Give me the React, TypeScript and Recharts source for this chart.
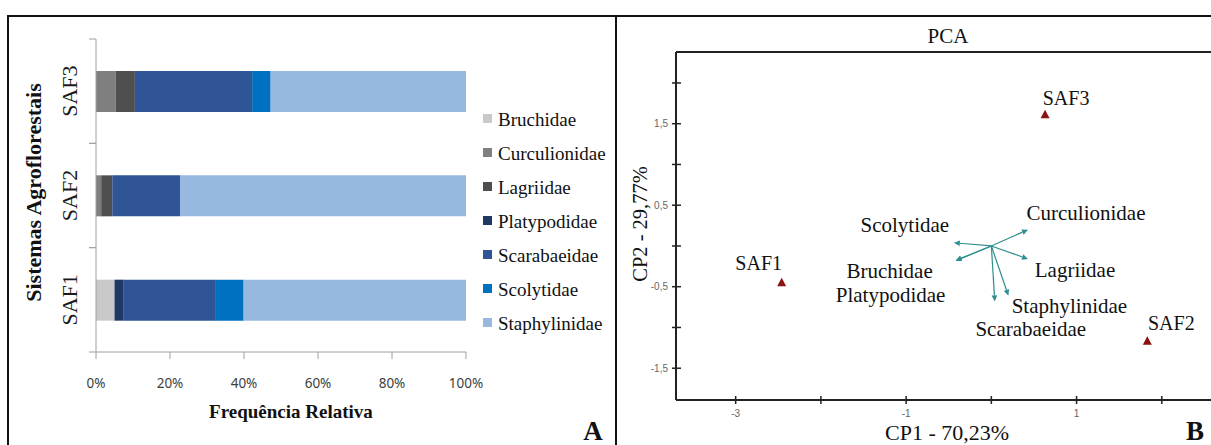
import React from "react";
import {
  BarChart,
  Bar,
  XAxis,
  YAxis,
  Legend,
  ScatterChart,
  Scatter,
  ReferenceLine,
} from "recharts";

// --- panel A: relative frequency of families per agroforestry system (%)
const sites = ["SAF1", "SAF2", "SAF3"];
const bruchidae = [5.0, 0, 0];
const curculionidae = [0, 1.4, 5.3];
const lagriidae = [0, 3.0, 5.2];
const platypodidae = [2.5, 0, 0];
const scarabaeidae = [24.9, 18.3, 31.7];
const scolytidae = [7.5, 0, 5.0];
const staphylinidae = [60.1, 77.3, 52.8];
const pctTicks = [0, 20, 40, 60, 80, 100];

const families = [
  { key: "Bruchidae", values: bruchidae, color: "#c9c9c9" },
  { key: "Curculionidae", values: curculionidae, color: "#7f7f7f" },
  { key: "Lagriidae", values: lagriidae, color: "#4f4f4f" },
  { key: "Platypodidae", values: platypodidae, color: "#1f3864" },
  { key: "Scarabaeidae", values: scarabaeidae, color: "#2f5597" },
  { key: "Scolytidae", values: scolytidae, color: "#0070c0" },
  { key: "Staphylinidae", values: staphylinidae, color: "#98b9df" },
];

// --- panel B: PCA scores and loadings
const siteCP1 = [-2.46, 1.83, 0.63];
const siteCP2 = [-0.45, -1.17, 1.61];
const loadingNames = [
  "Scolytidae",
  "Bruchidae",
  "Platypodidae",
  "Curculionidae",
  "Lagriidae",
  "Staphylinidae",
  "Scarabaeidae",
];
const loadCP1 = [-0.44, -0.42, -0.42, 0.43, 0.43, 0.2, 0.04];
const loadCP2 = [0.04, -0.18, -0.18, 0.2, -0.16, -0.61, -0.68];
const cp1Ticks = [-3, -2, -1, 0, 1, 2];
const cp1Labels = [-3, -1, 1];
const cp2Ticks = [-1.5, -1, -0.5, 0, 0.5, 1, 1.5, 2];
const cp2Labels = [-1.5, -0.5, 0.5, 1.5];

const SERIF = '"Liberation Serif", "Times New Roman", serif';
const AXIS_GRAY = "#a0a0a0";
const ARROW = "#2f8f8f";
const POINT = "#8b1212";
const BAND_HALF = (445 - 39 - 93) / 3 / 2;

const barData = sites.map((site, i) => {
  const row: Record<string, number | string> = { site };
  families.forEach((f) => (row[f.key] = f.values[i]));
  return row;
});

const siteData = sites.map((name, i) => ({
  name,
  x: siteCP1[i],
  y: siteCP2[i],
}));

// label placement (px, text baseline relative to mark)
const siteLabelOffset: Record<string, [number, number]> = {
  SAF1: [-23, -13],
  SAF2: [24, -11],
  SAF3: [21, -10],
};
const loadLabelOffset: Record<string, [number, number]> = {
  Scolytidae: [-49, -11],
  Bruchidae: [-66, 17],
  Platypodidae: [-65, 41],
  Curculionidae: [58, -10],
  Lagriidae: [47, 18],
  Staphylinidae: [61, 17],
  Scarabaeidae: [36, 35],
};

const commaNum = (v: number) => String(v).replace(".", ",");

function SiteTick(props: any) {
  const { x, y, payload } = props;
  const tx = x - 19;
  return (
    <g>
      <line x1={x - 7} x2={x} y1={y - BAND_HALF} y2={y - BAND_HALF} stroke={AXIS_GRAY} />
      <line x1={x - 7} x2={x} y1={y + BAND_HALF} y2={y + BAND_HALF} stroke={AXIS_GRAY} />
      <text
        x={tx}
        y={y}
        transform={`rotate(-90 ${tx} ${y})`}
        textAnchor="middle"
        fontFamily={SERIF}
        fontSize={22}
        fill="#1a1a1a"
      >
        {payload.value}
      </text>
    </g>
  );
}

function FamilyLegend() {
  return (
    <div style={{ fontFamily: SERIF, fontSize: 19, color: "#111" }}>
      {families.map((f) => (
        <div
          key={f.key}
          style={{ height: 34, display: "flex", alignItems: "center", whiteSpace: "nowrap" }}
        >
          <span
            style={{
              width: 9,
              height: 9,
              background: f.color,
              marginRight: 6,
              position: "relative",
              top: -2,
              display: "inline-block",
            }}
          />
          <span style={{ lineHeight: "34px" }}>{f.key}</span>
        </div>
      ))}
    </div>
  );
}

function PcaXTick(props: any) {
  const { x, y, payload } = props;
  const v = payload.value;
  return (
    <g>
      <line x1={x} x2={x} y1={y - 4} y2={y + 4} stroke="#222" strokeWidth={1.5} />
      {cp1Labels.includes(v) && (
        <text x={x} y={y + 17} textAnchor="middle" fontFamily="Liberation Sans" fontSize={10} fill="#666">
          {commaNum(v)}
        </text>
      )}
    </g>
  );
}

function PcaYTick(props: any) {
  const { x, y, payload } = props;
  const v = payload.value;
  return (
    <g>
      <line x1={x - 4} x2={x + 5} y1={y} y2={y} stroke="#222" strokeWidth={1.5} />
      {cp2Labels.includes(v) && (
        <text x={x - 8} y={y + 3.5} textAnchor="end" fontFamily="Liberation Sans" fontSize={10} fill="#666">
          {commaNum(v)}
        </text>
      )}
    </g>
  );
}

function SiteMarker(props: any) {
  const { cx, cy, payload } = props;
  const [dx, dy] = siteLabelOffset[payload.name] || [0, -10];
  return (
    <g>
      <polygon
        points={`${cx},${cy - 5} ${cx - 4.5},${cy + 3.5} ${cx + 4.5},${cy + 3.5}`}
        fill={POINT}
      />
      <text
        x={cx + dx}
        y={cy + dy}
        textAnchor="middle"
        fontFamily={SERIF}
        fontSize={20}
        fill="#111"
      >
        {payload.name}
      </text>
    </g>
  );
}

function LoadingArrow(props: any) {
  const { x1, y1, x2, y2, name } = props;
  const ang = Math.atan2(y2 - y1, x2 - x1);
  const len = 6;
  const half = 2.8;
  const bx = x2 - len * Math.cos(ang);
  const by = y2 - len * Math.sin(ang);
  const px = -Math.sin(ang) * half;
  const py = Math.cos(ang) * half;
  const [dx, dy] = loadLabelOffset[name] || [0, 0];
  return (
    <g>
      <line x1={x1} y1={y1} x2={bx} y2={by} stroke={ARROW} strokeWidth={1.2} />
      <polygon
        points={`${x2},${y2} ${bx + px},${by + py} ${bx - px},${by - py}`}
        fill={ARROW}
      />
      <text
        x={x2 + dx}
        y={y2 + dy}
        textAnchor="middle"
        fontFamily={SERIF}
        fontSize={21}
        fill="#111"
      >
        {name}
      </text>
    </g>
  );
}

export default function App() {
  return (
    <div
      style={{
        position: "absolute",
        left: 0,
        top: 0,
        width: 1211,
        height: 445,
        overflow: "hidden",
        background: "#fff",
        fontFamily: SERIF,
      }}
    >
      {/* A: stacked bars */}
      <div style={{ position: "absolute", left: 0, top: 0 }}>
        <BarChart
          width={610}
          height={445}
          layout="vertical"
          data={barData}
          margin={{ top: 39, right: 144, bottom: 0, left: 0 }}
        >
          <XAxis
            type="number"
            domain={[0, 100]}
            ticks={pctTicks}
            interval={0}
            allowDataOverflow
            height={93}
            stroke={AXIS_GRAY}
            tickSize={7}
            tickMargin={19}
            tickFormatter={(v: number) => `${v}%`}
            tick={{ fill: "#404040", fontSize: 13.5, fontFamily: "Noto Sans" }}
            label={{
              content: (p: any) => {
                const vb = p.viewBox || {};
                return (
                  <text
                    x={vb.x + vb.width / 2 + 10}
                    y={vb.y + 66}
                    textAnchor="middle"
                    fontFamily={SERIF}
                    fontWeight="bold"
                    fontSize={19}
                    fill="#111"
                  >
                    Frequência Relativa
                  </text>
                );
              },
            }}
          />
          <YAxis
            type="category"
            dataKey="site"
            reversed
            width={96}
            stroke={AXIS_GRAY}
            tickLine={false}
            tickSize={0}
            tickMargin={0}
            interval={0}
            tick={<SiteTick />}
            label={{
              content: (p: any) => {
                const vb = p.viewBox || {};
                const cy = vb.y + vb.height / 2 - 3;
                return (
                  <text
                    x={41}
                    y={cy}
                    transform={`rotate(-90 41 ${cy})`}
                    textAnchor="middle"
                    fontFamily={SERIF}
                    fontWeight="bold"
                    fontSize={22}
                    fill="#111"
                  >
                    Sistemas Agroflorestais
                  </text>
                );
              },
            }}
          />
          <Legend
            layout="vertical"
            align="center"
            verticalAlign="middle"
            wrapperStyle={{ left: 483, top: 103, width: 130 }}
            content={() => <FamilyLegend />}
          />
          {families.map((f) => (
            <Bar
              key={f.key}
              dataKey={f.key}
              stackId="saf"
              fill={f.color}
              barSize={41}
              isAnimationActive={false}
            />
          ))}
        </BarChart>
      </div>

      {/* B: PCA biplot */}
      <div style={{ position: "absolute", left: 616, top: 0 }}>
        <ScatterChart
          width={620}
          height={445}
          margin={{ top: 52, right: 6, bottom: 0, left: 0 }}
        >
          <XAxis
            type="number"
            dataKey="x"
            domain={[-3.7, 2.8]}
            allowDataOverflow
            ticks={cp1Ticks}
            interval={0}
            height={45}
            tickLine={false}
            tickSize={0}
            tickMargin={0}
            tick={<PcaXTick />}
            axisLine={{ stroke: "#222", strokeWidth: 2 }}
            label={{
              content: (p: any) => {
                const vb = p.viewBox || {};
                return (
                  <text
                    x={vb.x + 271}
                    y={vb.y + 40}
                    textAnchor="middle"
                    fontFamily={SERIF}
                    fontSize={22}
                    fill="#111"
                  >
                    CP1 - 70,23%
                  </text>
                );
              },
            }}
          />
          <YAxis
            type="number"
            dataKey="y"
            domain={[-1.89, 2.38]}
            allowDataOverflow
            ticks={cp2Ticks}
            interval={0}
            width={60}
            tickLine={false}
            tickSize={0}
            tickMargin={0}
            tick={<PcaYTick />}
            axisLine={{ stroke: "#222", strokeWidth: 2 }}
            label={{
              content: (p: any) => {
                const vb = p.viewBox || {};
                const cy = vb.y + vb.height / 2 - 2;
                const cx = vb.x + 31;
                return (
                  <text
                    x={cx}
                    y={cy}
                    transform={`rotate(-90 ${cx} ${cy})`}
                    textAnchor="middle"
                    fontFamily={SERIF}
                    fontSize={20.5}
                    fill="#111"
                  >
                    CP2 - 29,77%
                  </text>
                );
              },
            }}
          />
          <ReferenceLine y={2.38} stroke="#222" strokeWidth={2} ifOverflow="visible" />
          {loadingNames.map((name, i) => (
            <ReferenceLine
              key={name}
              segment={[
                { x: 0, y: 0 },
                { x: loadCP1[i], y: loadCP2[i] },
              ]}
              ifOverflow="visible"
              shape={(p: any) => <LoadingArrow {...p} name={name} />}
            />
          ))}
          <Scatter data={siteData} shape={<SiteMarker />} isAnimationActive={false} />
        </ScatterChart>
      </div>

      {/* frame, panel letters, PCA title */}
      <svg
        width={1211}
        height={445}
        style={{ position: "absolute", left: 0, top: 0, pointerEvents: "none" }}
      >
        <line x1={8} x2={1211} y1={16} y2={16} stroke="#111" strokeWidth={2} />
        <line x1={8} x2={8} y1={15} y2={445} stroke="#111" strokeWidth={2} />
        <line x1={616} x2={616} y1={15} y2={445} stroke="#111" strokeWidth={2} />
        <text x={948} y={43} textAnchor="middle" fontFamily={SERIF} fontSize={21} fill="#111">
          PCA
        </text>
        <text x={593} y={440} textAnchor="middle" fontFamily={SERIF} fontWeight="bold" fontSize={27} fill="#111">
          A
        </text>
        <text x={1195} y={440} textAnchor="middle" fontFamily={SERIF} fontWeight="bold" fontSize={27} fill="#111">
          B
        </text>
      </svg>
    </div>
  );
}
